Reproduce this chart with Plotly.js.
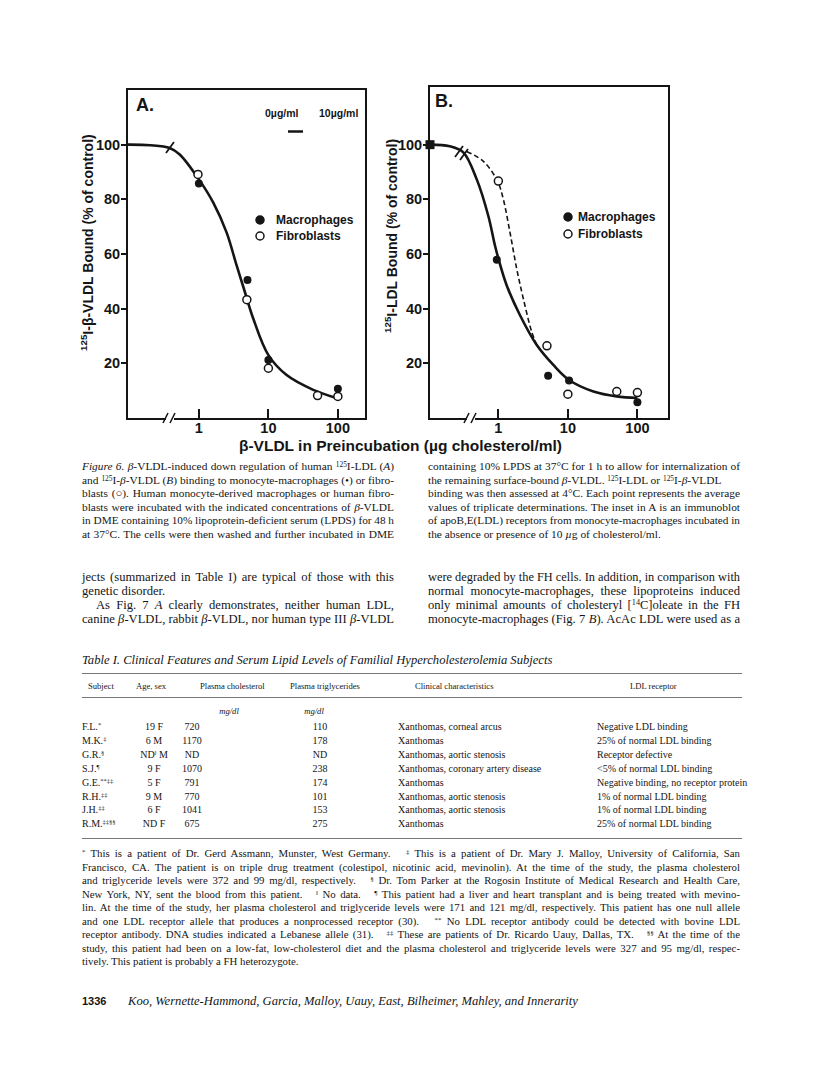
<!DOCTYPE html>
<html>
<head>
<meta charset="utf-8">
<script src="https://cdn.plot.ly/plotly-3.0.1.min.js"></script>
<style>
  body { margin: 0; background: #fff; }
  #page { position: relative; width: 816px; height: 1074px; overflow: hidden;
          font-family: "Liberation Serif", "Times New Roman", serif; color: #151515; }
  #fig { position: absolute; left: 0; top: 0; width: 816px; height: 480px; }
  .ln { position: absolute; white-space: nowrap; line-height: 14px; transform-origin: left center; }
  .cap { font-size: 11.4px; }
  .body { font-size: 12.6px; }
  .tab { font-size: 10px; }
  .th { font-size: 8.6px; }
  .fn { font-size: 10.8px; }
  .rule { position: absolute; left: 82px; width: 660px; height: 0; border-top: 1px solid #777; }
  sup { font-size: 65%; vertical-align: 0.45em; line-height: 0; }
</style>
</head>
<body>
<div id="page">
  <div id="fig"></div>
</div>
<script>
// ── Figure 6 data ────────────────────────────────────────────────────────────
// x = β-VLDL in preincubation (µg cholesterol/ml), y = % of control bound.
// The 0 µg/ml control sits at the left end of the broken log axis.
const ctrlXA = 0.095, ctrlXB = 0.104;
const ctrlY = 100;

// Panel A: 125I-β-VLDL bound
const macroA_x = [1, 5, 10, 100];
const macroA_y = [85.8, 50.5, 21.2, 10.7];
const fibroA_x = [0.97, 4.9, 10, 51, 100];
const fibroA_y = [89.1, 43.3, 18.2, 8.2, 7.9];
const curveA_x = [0.095, 0.2, 0.38, 0.53, 1, 1.61, 2.5, 3.49, 4.59, 6.05, 10, 18.3, 44.2, 95.8];
const curveA_y = [100, 99.8, 98.8, 96.4, 87.3, 78.8, 67.9, 55.8, 46.1, 36.4, 23.0, 15.7, 10.3, 7.3];

// Panel B: 125I-LDL bound
const macroB_x = [0.95, 5.2, 10.4, 100];
const macroB_y = [57.9, 15.5, 13.7, 5.8];
const fibroB_x = [1, 5, 10, 50.5, 100];
const fibroB_y = [86.7, 26.4, 8.7, 9.7, 9.3];
const solidB_x = [0.104, 0.2, 0.313, 0.489, 0.718, 0.896, 1.02, 1.32, 2.05, 3.57, 6.18, 10.4, 23.3, 50.5, 100];
const solidB_y = [100, 99.4, 97.2, 87.3, 73.9, 63, 57.6, 48.5, 37.6, 26.7, 19.4, 13.9, 9.7, 7.9, 7.3];
const dashB_x = [0.35, 0.61, 0.97, 1.18, 1.47, 1.84, 2.29, 3.02, 3.57];
const dashB_y = [97.5, 93.9, 86.7, 80, 67.9, 54.5, 43.6, 31.5, 26.7];

const xTicks = [1, 10, 100];
const yTicks = [20, 40, 60, 80, 100];
const seriesNames = ["Macrophages", "Fibroblasts"];

// ── Page text ────────────────────────────────────────────────────────────────
const captionLeft = [
  "<i>Figure 6. β</i>-VLDL-induced down regulation of human <sup>125</sup>I-LDL (<i>A</i>)",
  "and <sup>125</sup>I-<i>β</i>-VLDL (<i>B</i>) binding to monocyte-macrophages (•) or fibro-",
  "blasts (○). Human monocyte-derived macrophages or human fibro-",
  "blasts were incubated with the indicated concentrations of <i>β</i>-VLDL",
  "in DME containing 10% lipoprotein-deficient serum (LPDS) for 48 h",
  "at 37°C. The cells were then washed and further incubated in DME",
];
const captionRight = [
  "containing 10% LPDS at 37°C for 1 h to allow for internalization of",
  "the remaining surface-bound <i>β</i>-VLDL. <sup>125</sup>I-LDL or <sup>125</sup>I-<i>β</i>-VLDL",
  "binding was then assessed at 4°C. Each point represents the average",
  "values of triplicate determinations. The inset in A is an immunoblot",
  "of apoB,E(LDL) receptors from monocyte-macrophages incubated in",
  "the absence or presence of 10 <i>µ</i>g of cholesterol/ml.",
];
const captionRightJust = [1, 0, 1, 1, 1, 0];
const bodyLeft = [
  "jects (summarized in Table I) are typical of those with this",
  "genetic disorder.",
  "As Fig. 7 <i>A</i> clearly demonstrates, neither human LDL,",
  "canine <i>β</i>-VLDL, rabbit <i>β</i>-VLDL, nor human type III <i>β</i>-VLDL",
];
const bodyLeftJust = [1, 0, 1, 1];
const bodyRight = [
  "were degraded by the FH cells. In addition, in comparison with",
  "normal monocyte-macrophages, these lipoproteins induced",
  "only minimal amounts of cholesteryl [<sup>14</sup>C]oleate in the FH",
  "monocyte-macrophages (Fig. 7 <i>B</i>). AcAc LDL were used as a",
];

const tableTitle = "Table I. Clinical Features and Serum Lipid Levels of Familial Hypercholesterolemia Subjects";
const tableHead = ["Subject", "Age, sex", "Plasma cholesterol", "Plasma triglycerides",
                   "Clinical characteristics", "LDL receptor"];
const subjects = ["F.L.<sup>*</sup>", "M.K.<sup>‡</sup>", "G.R.<sup>§</sup>", "S.J.<sup>¶</sup>",
                  "G.E.<sup>**‡‡</sup>", "R.H.<sup>‡‡</sup>", "J.H.<sup>‡‡</sup>", "R.M.<sup>‡‡§§</sup>"];
const ageSex = ["19 F", "6 M", "ND<sup>‖</sup> M", "9 F", "5 F", "9 M", "6 F", "ND F"];
const cholesterol = ["720", "1170", "ND", "1070", "791", "770", "1041", "675"];
const triglycerides = ["110", "178", "ND", "238", "174", "101", "153", "275"];
const clinical = ["Xanthomas, corneal arcus", "Xanthomas", "Xanthomas, aortic stenosis",
                  "Xanthomas, coronary artery disease", "Xanthomas", "Xanthomas, aortic stenosis",
                  "Xanthomas, aortic stenosis", "Xanthomas"];
const receptor = ["Negative LDL binding", "25% of normal LDL binding", "Receptor defective",
                  "&lt;5% of normal LDL binding", "Negative binding, no receptor protein",
                  "1% of normal LDL binding", "1% of normal LDL binding", "25% of normal LDL binding"];

const footnotes = [
  "<sup>*</sup> This is a patient of Dr. Gerd Assmann, Munster, West Germany. &nbsp; <sup>‡</sup> This is a patient of Dr. Mary J. Malloy, University of California, San",
  "Francisco, CA. The patient is on triple drug treatment (colestipol, nicotinic acid, mevinolin). At the time of the study, the plasma cholesterol",
  "and triglyceride levels were 372 and 99 mg/dl, respectively. &nbsp; <sup>§</sup> Dr. Tom Parker at the Rogosin Institute of Medical Research and Health Care,",
  "New York, NY, sent the blood from this patient. &nbsp; <sup>‖</sup> No data. &nbsp; <sup>¶</sup> This patient had a liver and heart transplant and is being treated with mevino-",
  "lin. At the time of the study, her plasma cholesterol and triglyceride levels were 171 and 121 mg/dl, respectively. This patient has one null allele",
  "and one LDL receptor allele that produces a nonprocessed receptor (30). &nbsp; <sup>**</sup> No LDL receptor antibody could be detected with bovine LDL",
  "receptor antibody. DNA studies indicated a Lebanese allele (31). &nbsp; <sup>‡‡</sup> These are patients of Dr. Ricardo Uauy, Dallas, TX. &nbsp; <sup>§§</sup> At the time of the",
  "study, this patient had been on a low-fat, low-cholesterol diet and the plasma cholesterol and triglyceride levels were 327 and 95 mg/dl, respec-",
  "tively. This patient is probably a FH heterozygote.",
];

// ── Plot ─────────────────────────────────────────────────────────────────────
const W = 816, H = 480;
const px = v => v / W;            // page px → paper x
const py = v => 1 - v / H;        // page px → paper y
const INK = "#151515";
const SANS = "Liberation Sans, Arial, sans-serif";

const filled = { color: INK, size: 8 };
const open = { color: "#fff", size: 8, line: { color: INK, width: 1.5 } };

const traces = [
  { x: curveA_x, y: curveA_y, mode: "lines", line: { color: INK, width: 2.6, shape: "spline" },
    xaxis: "x", yaxis: "y" },
  { x: [ctrlXA], y: [ctrlY], mode: "markers", marker: { color: INK, size: 9, symbol: "square" },
    cliponaxis: false, xaxis: "x", yaxis: "y" },
  { x: macroA_x, y: macroA_y, mode: "markers", name: seriesNames[0], marker: filled,
    cliponaxis: false, xaxis: "x", yaxis: "y" },
  { x: fibroA_x, y: fibroA_y, mode: "markers", name: seriesNames[1], marker: open,
    cliponaxis: false, xaxis: "x", yaxis: "y" },

  { x: solidB_x, y: solidB_y, mode: "lines", line: { color: INK, width: 2.6, shape: "spline" },
    xaxis: "x2", yaxis: "y2" },
  { x: dashB_x, y: dashB_y, mode: "lines", line: { color: INK, width: 1.6, dash: "5px,3px", shape: "spline" },
    xaxis: "x2", yaxis: "y2" },
  { x: [ctrlXB], y: [ctrlY], mode: "markers", marker: { color: INK, size: 9, symbol: "square" },
    cliponaxis: false, xaxis: "x2", yaxis: "y2" },
  { x: macroB_x, y: macroB_y, mode: "markers", name: seriesNames[0], marker: filled,
    cliponaxis: false, xaxis: "x2", yaxis: "y2" },
  { x: fibroB_x, y: fibroB_y, mode: "markers", name: seriesNames[1], marker: open,
    cliponaxis: false, xaxis: "x2", yaxis: "y2" },
];

const tickFont = { family: SANS, size: 14.5, weight: "bold", color: INK };
function xAx(domain, range, anchor) {
  return { type: "log", domain, range, anchor, tickvals: xTicks, ticktext: xTicks.map(String),
    ticks: "inside", ticklen: 9, tickwidth: 2, tickcolor: INK, showline: true, linewidth: 2,
    linecolor: INK, mirror: true, showgrid: false, zeroline: false, tickfont: tickFont,
    ticklabelstandoff: -4, fixedrange: true };
}
function yAx(domain, range, anchor) {
  return { domain, range, anchor, tickvals: yTicks, ticks: "outside", ticklen: 5, tickwidth: 2,
    tickcolor: INK, showline: true, linewidth: 2, linecolor: INK, mirror: true, showgrid: false,
    zeroline: false, tickfont: tickFont, ticklabelstandoff: -2, fixedrange: true };
}

// decorative strokes: axis/curve breaks, the immunoblot band, legend keys (page px)
const seg = (x0, y0, x1, y1, w) => ({ type: "line", xref: "paper", yref: "paper",
  x0: px(x0), y0: py(y0), x1: px(x1), y1: py(y1), line: { color: INK, width: w || 1.6 }, layer: "above" });
const gap = (x0, x1) => ({ type: "rect", xref: "paper", yref: "paper", x0: px(x0), x1: px(x1),
  y0: py(421), y1: py(415), fillcolor: "#fff", line: { width: 0 }, layer: "above" });
const dot = (cx, cy, isOpen) => ({ type: "circle", xref: "paper", yref: "paper",
  x0: px(cx - 4), x1: px(cx + 4), y0: py(cy + 4), y1: py(cy - 4),
  fillcolor: isOpen ? "#fff" : INK, line: { color: INK, width: 1.5 }, layer: "above" });

const shapes = [
  gap(166, 174), seg(163, 423, 168, 413), seg(170, 423, 175, 413),
  gap(467, 475), seg(464, 423, 469, 413), seg(471, 423, 476, 413),
  seg(166, 153, 174, 142, 1.8),
  seg(455, 157, 463, 146, 1.8), seg(460, 160, 468, 149, 1.8),
  seg(288, 131.5, 303, 131.5, 2.5),
  dot(260, 220, false), dot(260, 236, true),
  dot(568, 217, false), dot(568, 234, true),
];

const ann = (text, x, y, size, extra) => Object.assign({ text, xref: "paper", yref: "paper",
  x: px(x), y: py(y), xanchor: "center", yanchor: "middle", showarrow: false,
  font: { family: SANS, size, weight: "bold", color: INK } }, extra || {});

const annotations = [
  ann("A.", 145, 105, 18),
  ann("B.", 444, 101, 18),
  ann("0µg/ml", 282, 113, 10.5),
  ann("10µg/ml", 338, 113, 10.5),
  ann(seriesNames[0], 274, 220, 12, { xanchor: "left" }),
  ann(seriesNames[1], 274, 236, 12, { xanchor: "left" }),
  ann(seriesNames[0], 576, 217, 12, { xanchor: "left" }),
  ann(seriesNames[1], 576, 234, 12, { xanchor: "left" }),
  ann("<sup>125</sup>I-β-VLDL Bound (% of control)", 87, 243, 14, { textangle: -90 }),
  ann("<sup>125</sup>I-LDL Bound (% of control)", 391, 236, 14, { textangle: -90 }),
  ann("β-VLDL in Preincubation (µg cholesterol/ml)", 400, 445, 15.5),
];

const layout = {
  width: W, height: H, margin: { l: 0, r: 0, t: 0, b: 0 }, showlegend: false,
  paper_bgcolor: "rgba(0,0,0,0)", plot_bgcolor: "rgba(0,0,0,0)",
  xaxis: xAx([px(128), px(365)], [-1.02, 2.39], "y"),
  yaxis: yAx([py(418), py(90)], [0, 120], "x"),
  xaxis2: xAx([px(430), px(668)], [-0.983, 2.44], "y2"),
  yaxis2: yAx([py(418), py(87)], [0, 121.1], "x2"),
  shapes, annotations,
};

Plotly.newPlot("fig", traces, layout, { displayModeBar: false, staticPlot: true });

// ── Text blocks ──────────────────────────────────────────────────────────────
const page = document.getElementById("page");

// one absolutely placed line; justified lines are stretched to width w
function addLine(html, x, yc, w, cls, justify, align) {
  const el = document.createElement("div");
  el.className = "ln " + cls;
  el.innerHTML = html;
  page.appendChild(el);
  el.style.top = (yc - 7) + "px";
  const nat = el.getBoundingClientRect().width;
  let left = x;
  if (align === "center") left = x - nat / 2;
  if (align === "right") left = x - nat;
  el.style.left = left + "px";
  if (w && nat > w) {
    el.style.transform = `scaleX(${w / nat})`;
  } else if (w && justify) {
    const n = (el.textContent.match(/[ \u00a0]/g) || []).length;
    if (n) el.style.wordSpacing = ((w - nat) / n) + "px";
  }
  return el;
}
function addRule(y) {
  const r = document.createElement("div");
  r.className = "rule";
  r.style.top = y + "px";
  page.appendChild(r);
}

const colL = 82, colR = 428, colW = 312;
captionLeft.forEach((s, i) => addLine(s, colL, 466 + i * 13.6, colW, "cap", true));
captionRight.forEach((s, i) => addLine(s, colR, 466 + i * 13.6, colW, "cap", captionRightJust[i]));
bodyLeft.forEach((s, i) => addLine(s, colL + (i === 2 ? 14 : 0), 577 + i * 14, colW - (i === 2 ? 14 : 0),
  "body", bodyLeftJust[i]));
bodyRight.forEach((s, i) => addLine(s, colR, 577 + i * 14, colW, "body", true));

addLine("<i>" + tableTitle + "</i>", colL, 660, 0, "body", false);
addRule(673);
const headX = [88, 136, 200, 290, 415, 630];
tableHead.forEach((s, i) => addLine(s, headX[i], 686, 0, "th", false));
addRule(697);
addLine("<i>mg/dl</i>", 229, 711, 0, "th", false, "center");
addLine("<i>mg/dl</i>", 314, 711, 0, "th", false, "center");
subjects.forEach((s, i) => {
  const y = 727 + i * 13.9;
  addLine(s, 82, y, 0, "tab", false);
  addLine(ageSex[i], 154, y, 0, "tab", false, "center");
  addLine(cholesterol[i], 192, y, 0, "tab", false, "center");
  addLine(triglycerides[i], 320, y, 0, "tab", false, "center");
  addLine(clinical[i], 398, y, 0, "tab", false);
  addLine(receptor[i], 597, y, 0, "tab", false);
});
addRule(838);

footnotes.forEach((s, i) => addLine(s, colL, 853 + i * 13.5, 658, "fn", i < footnotes.length - 1));

addLine("<b style=\"font-family:'Liberation Sans',Arial,sans-serif;font-size:11px\">1336</b>", colL, 1001, 0, "body", false);
addLine("<i>Koo, Wernette-Hammond, Garcia, Malloy, Uauy, East, Bilheimer, Mahley, and Innerarity</i>",
  128, 1001, 0, "body", false);
</script>
</body>
</html>
